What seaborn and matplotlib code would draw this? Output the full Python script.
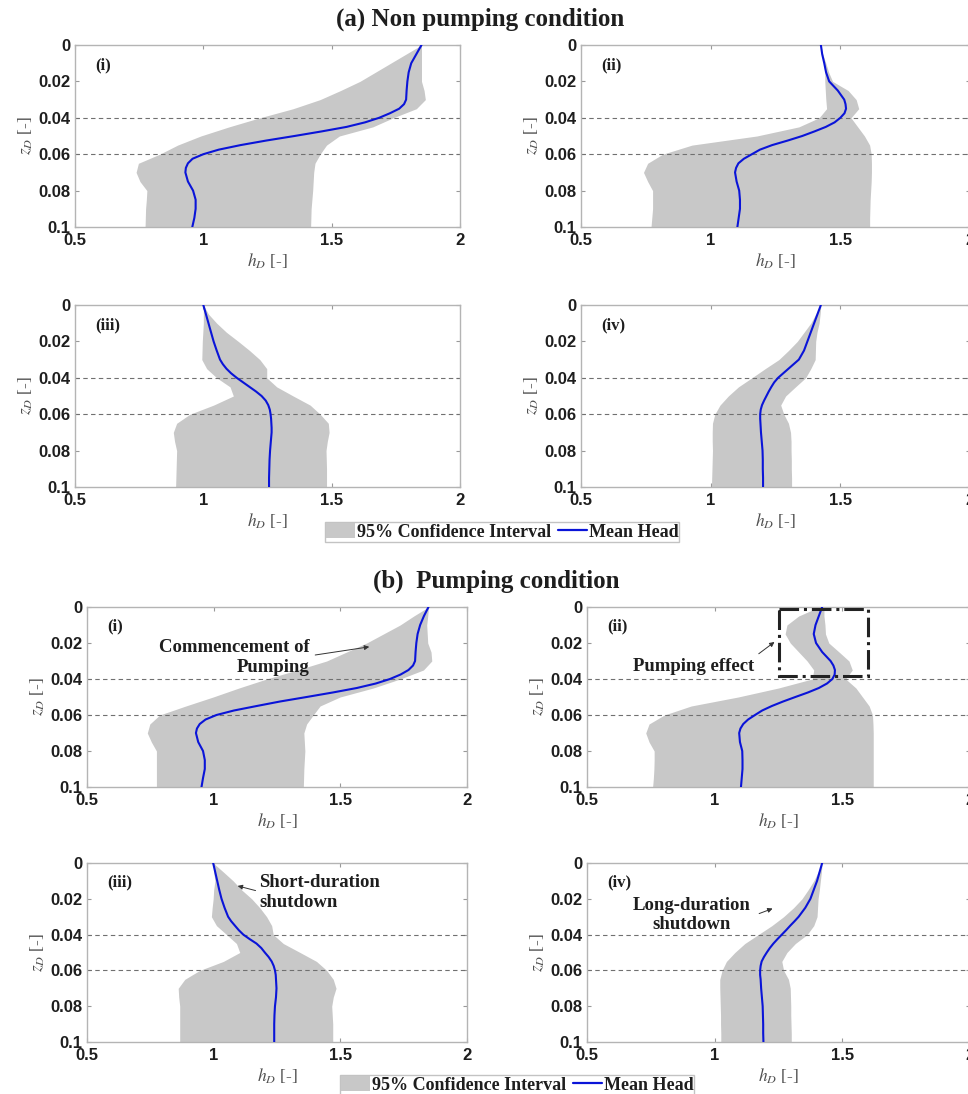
import numpy as np
import pandas as pd
import matplotlib
matplotlib.use('Agg')
import matplotlib.pyplot as plt
import seaborn as sns
from matplotlib.patches import Patch, Rectangle
from matplotlib.lines import Line2D

# depth grid (z_D) for the confidence band
z = [0.0, 0.005, 0.01, 0.015, 0.02, 0.025, 0.03, 0.035, 0.04, 0.045, 0.05,
     0.055, 0.06, 0.065, 0.07, 0.075, 0.08, 0.085, 0.09, 0.095, 0.1]
# depth grid (z_D) for the mean head curves (denser in the transition zone)
zm = [0.0, 0.005, 0.01, 0.015, 0.02, 0.025, 0.03, 0.0325, 0.035, 0.0375, 0.04,
      0.0425, 0.045, 0.0475, 0.05, 0.0525, 0.055, 0.0575, 0.06, 0.0625, 0.065,
      0.0675, 0.07, 0.075, 0.08, 0.085, 0.09, 0.095, 0.1]

# ---- (a) Non pumping condition ----
a1_mean = [1.85, 1.83, 1.81, 1.80, 1.795, 1.792, 1.79, 1.782, 1.763, 1.727, 1.685, 1.63, 1.558, 1.46, 1.355,
           1.245, 1.145, 1.06, 1.0, 0.958, 0.94, 0.932, 0.93, 0.94, 0.96, 0.97, 0.97, 0.965, 0.957]
a1_lo = [1.85, 1.79, 1.73, 1.67, 1.61, 1.535, 1.455, 1.35, 1.22, 1.10, 0.99, 0.90, 0.83, 0.747, 0.738, 0.753, 0.78, 0.778, 0.775, 0.774, 0.773]
a1_hi = [1.85, 1.85, 1.85, 1.85, 1.85, 1.86, 1.865, 1.83, 1.74, 1.66, 1.53, 1.48, 1.455, 1.435, 1.43, 1.428, 1.426, 1.423, 1.42, 1.419, 1.418]

a2_mean = [1.425, 1.43, 1.438, 1.445, 1.457, 1.49, 1.515, 1.52, 1.522, 1.516, 1.50, 1.478, 1.444, 1.40, 1.353,
           1.297, 1.237, 1.19, 1.159, 1.128, 1.107, 1.098, 1.094, 1.10, 1.11, 1.113, 1.113, 1.108, 1.103]
a2_lo = [1.425, 1.43, 1.436, 1.44, 1.44, 1.442, 1.444, 1.447, 1.418, 1.34, 1.178, 0.928, 0.815, 0.757, 0.741, 0.757, 0.776, 0.776, 0.776, 0.773, 0.77]
a2_hi = [1.425, 1.432, 1.444, 1.455, 1.47, 1.53, 1.561, 1.571, 1.541, 1.567, 1.593, 1.613, 1.619, 1.62, 1.62, 1.619, 1.617, 1.615, 1.614, 1.613, 1.613]

a3_mean = [1.0, 1.01, 1.02, 1.03, 1.04, 1.052, 1.065, 1.076, 1.09, 1.108, 1.13, 1.155, 1.18, 1.205, 1.227,
           1.243, 1.253, 1.259, 1.262, 1.264, 1.265, 1.266, 1.266, 1.263, 1.26, 1.258, 1.257, 1.256, 1.256]
a3_lo = [1.0, 1.0, 1.0, 0.998, 0.996, 0.995, 0.994, 1.013, 1.052, 1.104, 1.117, 1.04, 0.948, 0.896, 0.883, 0.888, 0.896, 0.895, 0.894, 0.893, 0.892]
a3_hi = [1.0, 1.02, 1.052, 1.09, 1.136, 1.18, 1.22, 1.247, 1.247, 1.286, 1.35, 1.416, 1.455, 1.487, 1.49, 1.483, 1.478, 1.479, 1.48, 1.48, 1.48]

a4_mean = [1.425, 1.412, 1.399, 1.386, 1.373, 1.36, 1.34, 1.32, 1.30, 1.28, 1.26, 1.245, 1.234, 1.224, 1.215,
           1.206, 1.198, 1.193, 1.191, 1.191, 1.192, 1.193, 1.194, 1.197, 1.20, 1.201, 1.201, 1.202, 1.202]
a4_lo = [1.425, 1.405, 1.386, 1.36, 1.334, 1.30, 1.263, 1.21, 1.159, 1.107, 1.068, 1.036, 1.016, 1.007, 1.006, 1.006, 1.007, 1.006, 1.005, 1.004, 1.003]
a4_hi = [1.425, 1.422, 1.418, 1.41, 1.405, 1.404, 1.403, 1.386, 1.366, 1.327, 1.289, 1.27, 1.282, 1.30, 1.308, 1.31, 1.31, 1.311, 1.311, 1.312, 1.312]

# ---- (b) Pumping condition ----
b1_mean = [1.848, 1.83, 1.815, 1.805, 1.80, 1.797, 1.795, 1.787, 1.769, 1.738, 1.696, 1.64, 1.565, 1.47, 1.367,
           1.262, 1.17, 1.08, 1.011, 0.968, 0.945, 0.934, 0.93, 0.939, 0.958, 0.965, 0.965, 0.958, 0.952]
b1_lo = [1.848, 1.79, 1.736, 1.67, 1.604, 1.525, 1.446, 1.33, 1.209, 1.10, 0.998, 0.89, 0.787, 0.748, 0.738, 0.754, 0.774, 0.774, 0.774, 0.774, 0.774]
b1_hi = [1.848, 1.845, 1.841, 1.843, 1.845, 1.858, 1.861, 1.828, 1.736, 1.63, 1.499, 1.42, 1.393, 1.367, 1.356, 1.358, 1.36, 1.358, 1.356, 1.355, 1.354]

b2_mean = [1.421, 1.408, 1.395, 1.388, 1.397, 1.421, 1.454, 1.465, 1.471, 1.47, 1.461, 1.44, 1.408, 1.365, 1.316,
           1.268, 1.224, 1.186, 1.158, 1.131, 1.112, 1.101, 1.096, 1.099, 1.108, 1.109, 1.109, 1.106, 1.103]
b2_lo = [1.41, 1.329, 1.283, 1.276, 1.296, 1.329, 1.362, 1.388, 1.382, 1.25, 1.092, 0.908, 0.803, 0.743, 0.73, 0.743, 0.763, 0.763, 0.762, 0.76, 0.757]
b2_hi = [1.428, 1.428, 1.432, 1.434, 1.447, 1.487, 1.526, 1.539, 1.513, 1.553, 1.579, 1.605, 1.618, 1.62, 1.621, 1.621, 1.621, 1.621, 1.621, 1.621, 1.621]

b3_mean = [0.998, 1.006, 1.014, 1.022, 1.031, 1.043, 1.057, 1.069, 1.084, 1.099, 1.117, 1.142, 1.169, 1.188, 1.202,
           1.217, 1.229, 1.237, 1.242, 1.245, 1.246, 1.247, 1.248, 1.246, 1.242, 1.24, 1.239, 1.239, 1.239]
b3_lo = [0.998, 1.0, 1.005, 1.0, 0.998, 0.994, 0.991, 1.011, 1.051, 1.09, 1.103, 1.038, 0.945, 0.886, 0.86, 0.862, 0.866, 0.866, 0.866, 0.866, 0.866]
b3_hi = [0.998, 1.038, 1.077, 1.11, 1.15, 1.182, 1.209, 1.229, 1.235, 1.275, 1.341, 1.406, 1.446, 1.472, 1.483, 1.472, 1.466, 1.468, 1.47, 1.47, 1.47]

b4_mean = [1.421, 1.411, 1.401, 1.388, 1.375, 1.355, 1.329, 1.313, 1.296, 1.28, 1.263, 1.246, 1.23, 1.216, 1.204,
           1.193, 1.184, 1.18, 1.178, 1.178, 1.18, 1.181, 1.182, 1.185, 1.188, 1.189, 1.19, 1.19, 1.191]
b4_lo = [1.421, 1.405, 1.388, 1.366, 1.342, 1.309, 1.27, 1.224, 1.171, 1.118, 1.079, 1.046, 1.029, 1.02, 1.02, 1.021, 1.022, 1.023, 1.023, 1.024, 1.024]
b4_hi = [1.421, 1.418, 1.414, 1.41, 1.405, 1.403, 1.401, 1.388, 1.362, 1.316, 1.283, 1.263, 1.27, 1.289, 1.296, 1.297, 1.298, 1.298, 1.299, 1.30, 1.30]

x_ticks = [0.5, 1, 1.5, 2]
x_ticklabels = ['0.5', '1', '1.5', '2']
y_ticks = [0, 0.02, 0.04, 0.06, 0.08, 0.1]
y_ticklabels = ['0', '0.02', '0.04', '0.06', '0.08', '0.1']
ref_depths = [0.04, 0.06]
panel_labels = ['(i)', '(ii)', '(iii)', '(iv)']

sns.set_style('ticks')
plt.rcParams['font.family'] = ['Liberation Serif', 'DejaVu Serif']
plt.rcParams['mathtext.fontset'] = 'stix'

W, H = 968, 1094
fig = plt.figure(figsize=(W / 100, H / 100), dpi=100)

def add_ax(l, r, t, b):
    return fig.add_axes([l / W, 1 - b / H, (r - l) / W, (b - t) / H])

FILL = '#c8c8c8'
BLUE = '#0a14d8'
TXT = '#1e1e1e'

panels = [
    (75, 460, 45, 227, a1_mean, a1_lo, a1_hi, 0),
    (581, 970, 45, 227, a2_mean, a2_lo, a2_hi, 1),
    (75, 460, 305, 487, a3_mean, a3_lo, a3_hi, 2),
    (581, 970, 305, 487, a4_mean, a4_lo, a4_hi, 3),
    (87, 467, 607, 787, b1_mean, b1_lo, b1_hi, 0),
    (587, 970, 607, 787, b2_mean, b2_lo, b2_hi, 1),
    (87, 467, 863, 1042, b3_mean, b3_lo, b3_hi, 2),
    (587, 970, 863, 1042, b4_mean, b4_lo, b4_hi, 3),
]

axes = []
for (l, r, t, b, m, lo, hi, k) in panels:
    ax = add_ax(l, r, t, b)
    ax.fill_betweenx(z, lo, hi, color=FILL, lw=0, zorder=1)
    sns.lineplot(x=m, y=zm, orient='y', sort=False, estimator=None,
                 color=BLUE, lw=1.5, ax=ax, zorder=3)
    for line in ax.get_lines():
        line.set_solid_joinstyle('round')
    for d in ref_depths:
        ax.axhline(d, ls=(0, (4, 3)), color='#707070', lw=0.8, zorder=2)
    ax.set_xlim(0.5, 2)
    ax.set_ylim(0.1, 0)
    ax.set_xticks(x_ticks)
    ax.set_xticklabels(x_ticklabels)
    ax.set_yticks(y_ticks)
    ax.set_yticklabels(y_ticklabels)
    ax.tick_params(direction='in', top=True, right=True, length=3, width=0.8,
                   color='#999999', labelsize=12, labelcolor=TXT)
    ax.tick_params(axis='x', pad=4)
    ax.tick_params(axis='y', pad=3)
    for lbl in ax.get_xticklabels() + ax.get_yticklabels():
        lbl.set_fontfamily('Liberation Sans')
        lbl.set_fontweight('bold')
    for s in ax.spines.values():
        s.set_color('#b4b4b4')
        s.set_linewidth(1.0)
    ax.set_xlabel(r'$h_D$ [-]', fontsize=12.5, color='#505050', labelpad=3)
    ax.set_ylabel(r'$z_D$ [-]', fontsize=12.5, color='#505050', labelpad=3)
    ax.text(0.578, 0.011, panel_labels[k], fontsize=12, fontweight='bold',
            ha='left', va='center', color=TXT)
    axes.append(ax)

# Titles
fig.text(480 / W, 1 - 19 / H, '(a) Non pumping condition', ha='center', va='center',
         fontsize=18, fontweight='bold', color=TXT)
fig.text(496 / W, 1 - 581 / H, '(b)  Pumping condition', ha='center', va='center',
         fontsize=18, fontweight='bold', color=TXT)

# Annotations (b)
ann_kw = dict(fontsize=13.5, fontweight='bold', color=TXT, linespacing=1.2)
arr_kw = dict(arrowstyle='-|>', color='#333333', lw=0.7, mutation_scale=7)

ax = axes[4]
ax.text(1.38, 0.028, 'Commencement of\nPumping', ha='right', va='center', **ann_kw)
ax.annotate('', xy=(1.625, 0.0219), xytext=(1.39, 0.0269), arrowprops=arr_kw)

ax = axes[5]
ax.add_patch(Rectangle((1.25, 0.001), 0.349, 0.0375, fill=False, ec='#222222',
                       lw=2.2, ls='-.', zorder=4))
ax.text(0.918, 0.0333, 'Pumping effect', ha='center', va='center', **ann_kw)
ax.annotate('', xy=(1.243, 0.0185), xytext=(1.164, 0.0269), arrowprops=arr_kw)

ax = axes[6]
ax.text(1.18, 0.0166, 'Short-duration\nshutdown', ha='left', va='center', **ann_kw)
ax.annotate('', xy=(1.084, 0.0124), xytext=(1.176, 0.0158), arrowprops=arr_kw)

ax = axes[7]
ax.text(0.908, 0.029, 'Long-duration\nshutdown', ha='center', va='center', **ann_kw)
ax.annotate('', xy=(1.237, 0.0249), xytext=(1.164, 0.0288), arrowprops=arr_kw)

# Legends
handles = [Patch(facecolor=FILL, edgecolor='none'), Line2D([], [], color=BLUE, lw=1.6)]
names = ['95% Confidence Interval', 'Mean Head']
for cx, cy in [(502, 532), (517, 1085)]:
    leg = fig.legend(handles, names, loc='center', bbox_to_anchor=(cx / W, 1 - cy / H),
                     ncol=2, frameon=True, fancybox=False, edgecolor='#b4b4b4',
                     handlelength=1.6, handleheight=0.9, handletextpad=0.1,
                     columnspacing=0.4, borderpad=0.05, borderaxespad=0,
                     prop=dict(family='Liberation Serif', weight='bold', size=13))
    leg.get_frame().set_linewidth(1.0)
    for t in leg.get_texts():
        t.set_color(TXT)

fig.savefig('out.png', dpi=100, facecolor='white')
